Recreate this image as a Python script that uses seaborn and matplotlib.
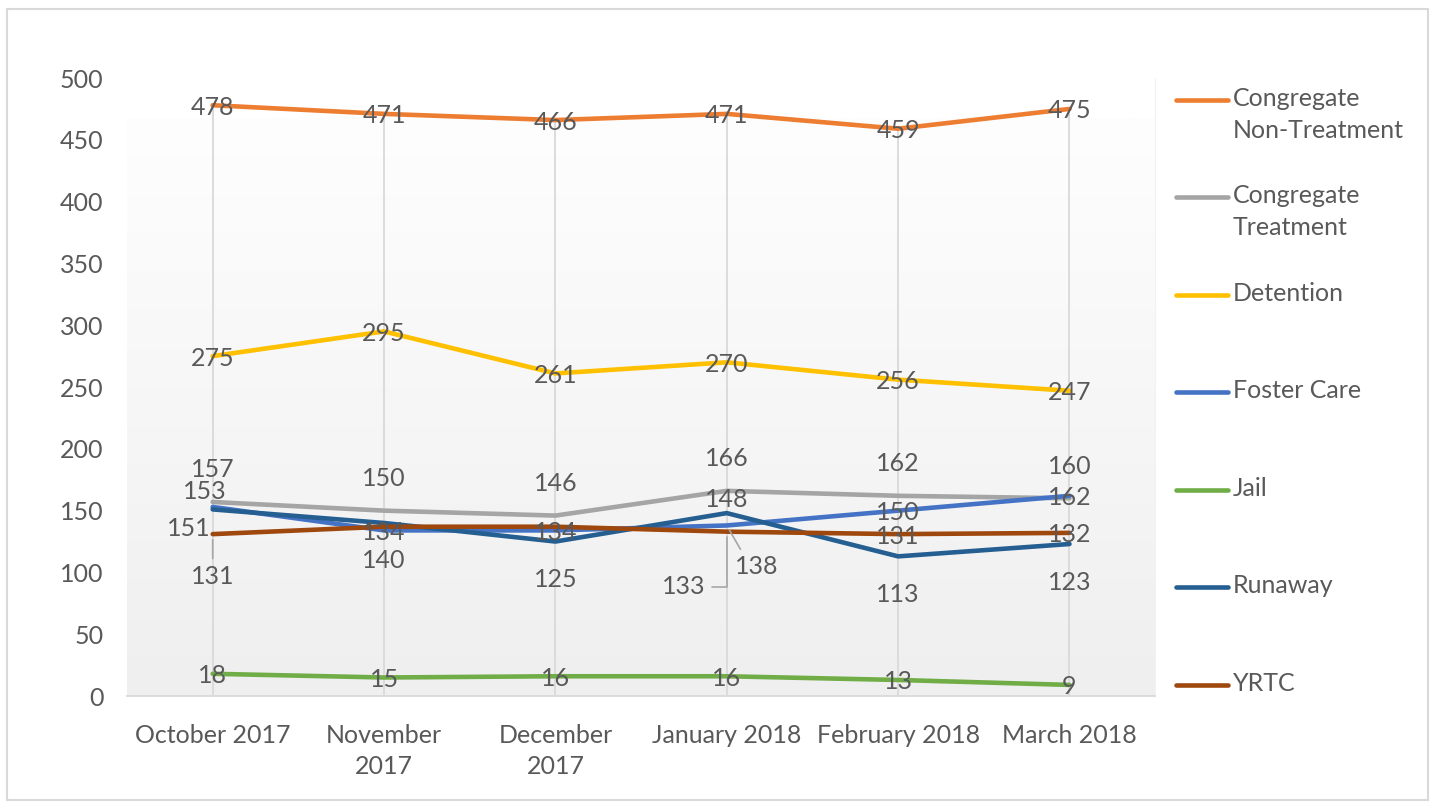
import numpy as np
import pandas as pd
import matplotlib.pyplot as plt
import seaborn as sns
from matplotlib.lines import Line2D
from matplotlib.patches import Rectangle
from matplotlib.colors import LinearSegmentedColormap

months = ["October 2017", "November\n2017", "December\n2017",
          "January 2018", "February 2018", "March 2018"]
series = ["Congregate\nNon-Treatment", "Congregate\nTreatment", "Detention",
          "Foster Care", "Jail", "Runaway", "YRTC"]
cong_non_treatment = [478, 471, 466, 471, 459, 475]
cong_treatment = [157, 150, 146, 166, 162, 160]
detention = [275, 295, 261, 270, 256, 247]
foster_care = [153, 134, 134, 138, 150, 162]
jail = [18, 15, 16, 16, 13, 9]
runaway = [151, 140, 125, 148, 113, 123]
yrtc = [131, 137, 137, 133, 131, 132]
colors = ["#ED7D31", "#A5A5A5", "#FFC000", "#4472C4", "#70AD47", "#255E91", "#9E480E"]

values = [cong_non_treatment, cong_treatment, detention, foster_care, jail, runaway, yrtc]
df = pd.DataFrame({
    "month": np.tile(np.arange(len(months)), len(series)),
    "series": np.repeat(series, len(months)),
    "count": np.concatenate(values),
})

# label offsets in pixels (dx, dy); None = label hidden in original
offsets = {
    series[0]: [(0, -2)] * 6,
    series[1]: [(0, 32)] * 6,
    series[2]: [(0, -2)] * 6,
    series[3]: [(-8, 15), (0, -2), (0, -2), (30, -41), (0, -2), (0, -2)],
    series[4]: [(0, -2)] * 6,
    series[5]: [(-24, -19), (0, -38), (0, -38), (0, 14), (0, -38), (0, -38)],
    series[6]: [(0, -42), None, None, (-43, -55), (0, -2), (0, -2)],
}
leaders = {(series[6], 0): (0.5, 1.0), (series[6], 3): (1.0, 0.5), (series[3], 3): (0.2, 1.0)}

sns.set_style("white")
plt.rcParams["font.family"] = ["Lato", "DejaVu Sans"]
txt = "#595959"
fs = 18

fig = plt.figure(figsize=(14.35, 8.07), dpi=100)
ax = fig.add_axes([0.0885, 0.1375, 0.7165, 0.7658])

# gradient fill of plot area
cmap = LinearSegmentedColormap.from_list("g", ["#efefef", "#fefefe"])
ax.imshow(np.linspace(0, 1, 256).reshape(-1, 1), cmap=cmap, aspect="auto",
          extent=(-0.5, 5.5, 0, 468), origin="lower", zorder=0)

top = np.max(values, axis=0)
ax.vlines(np.arange(len(months)), 0, top, color="#d9d9d9", lw=1.3, zorder=1)

sns.lineplot(data=df, x="month", y="count", hue="series", palette=colors,
             linewidth=3.3, legend=False, ax=ax, zorder=3)

for s, vals in zip(series, values):
    for i, v in enumerate(vals):
        off = offsets[s][i]
        if off is None:
            continue
        kw = {}
        if (s, i) in leaders:
            kw["arrowprops"] = dict(arrowstyle="-", color="#a6a6a6", lw=1.2,
                                    relpos=leaders[(s, i)], shrinkA=2, shrinkB=4,
                                    connectionstyle="angle,angleA=0,angleB=90,rad=0"
                                    if i == 3 and s == series[6] else "arc3")
        ax.annotate(str(v), (i, v), xytext=off, textcoords="offset pixels",
                    ha="center", va="center", fontsize=fs, color=txt, zorder=5, **kw)

ax.set_xlim(-0.5, 5.5)
ax.set_ylim(0, 500)
ax.set_yticks(range(0, 501, 50))
ax.set_xticks(range(len(months)))
ax.set_xticklabels(months, linespacing=1.45)
ax.set_xlabel("")
ax.set_ylabel("")
ax.tick_params(axis="x", length=0, pad=20, labelsize=fs, labelcolor=txt)
ax.tick_params(axis="y", length=0, pad=17, labelsize=fs, labelcolor=txt)
for side in ["top", "left"]:
    ax.spines[side].set_visible(False)
ax.spines["right"].set_color("#f2f2f2")
ax.spines["bottom"].set_color("#d9d9d9")
ax.spines["bottom"].set_linewidth(1.3)
ax.patch.set_alpha(0)

# legend drawn by hand for even spacing
W, H = 1435, 807
leg_y = [100, 197, 295, 392, 490, 587, 685]
for s, c, y in zip(series, colors, leg_y):
    fy = 1 - y / H
    fig.add_artist(Line2D([1176 / W, 1228 / W], [fy, fy], color=c, lw=3.3,
                          solid_capstyle="round", transform=fig.transFigure))
    fig.text(1233 / W, 1 - (y - 13) / H, s, va="top", ha="left",
             fontsize=fs, color=txt, linespacing=1.45)

fig.add_artist(Rectangle((7 / W, 7 / H), 1421 / W, 791 / H, fill=False,
                         edgecolor="#d9d9d9", lw=1.5, transform=fig.transFigure))

fig.savefig("out.png", dpi=100)
